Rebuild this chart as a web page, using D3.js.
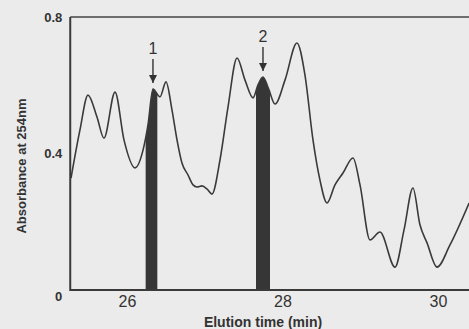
<!DOCTYPE html>
<html>
<head>
<meta charset="utf-8">
<script src="https://cdn.jsdelivr.net/npm/d3@7"></script>
<style>
  html, body { margin: 0; padding: 0; background: #ebebeb; }
  svg { display: block; }
  .axis-label { font-family: "Liberation Sans", Arial, sans-serif; fill: #333; }
</style>
</head>
<body>
<div id="chart"></div>
<script>
// elution time (min) and absorbance
const times = [25.28, 25.395, 25.498, 25.614, 25.704, 25.846, 25.961, 26.103, 26.206, 26.27, 26.334,
  26.424, 26.502, 26.579, 26.643, 26.707, 26.785, 26.849, 26.9, 26.965, 27.029, 27.093, 27.196,
  27.299, 27.415, 27.518, 27.621, 27.685, 27.749, 27.82, 27.904, 28.032, 28.186, 28.289, 28.392,
  28.482, 28.572, 28.675, 28.778, 28.907, 28.997, 29.125, 29.254, 29.447, 29.563, 29.678, 29.768,
  29.859, 29.987, 30.154, 30.4]
const absorbance = [0.328, 0.469, 0.571, 0.507, 0.445, 0.58, 0.44, 0.358, 0.41, 0.484, 0.589,
  0.566, 0.61, 0.527, 0.44, 0.372, 0.337, 0.308, 0.302, 0.305, 0.296, 0.281, 0.381,
  0.536, 0.68, 0.615, 0.563, 0.601, 0.624, 0.59, 0.545, 0.615, 0.724, 0.63, 0.44,
  0.322, 0.255, 0.308, 0.343, 0.387, 0.308, 0.147, 0.17, 0.067, 0.176, 0.299, 0.191,
  0.138, 0.067, 0.132, 0.255]

// collected fractions (shaded)
const peakLabels = ['1', '2']
const peakCenters = [26.334, 27.749]
const peakStarts = [26.24, 27.66]
const peakEnds = [26.39, 27.84]

const xTicks = [26, 28, 30]
const yTicks = [0, 0.4, 0.8]

const W = 469, H = 329
const x = d3.scaleLinear().domain([26, 30]).range([127, 438])
const y = d3.scaleLinear().domain([0, 0.8]).range([290, 17])
const xStart = 25.27

const data = times.map((t, i) => ({ t, v: absorbance[i] }))

const svg = d3.select('#chart').append('svg')
  .attr('width', W)
  .attr('height', H)

const line = d3.line()
  .x(d => x(d.t))
  .y(d => y(d.v))
  .curve(d3.curveMonotoneX)

const area = d3.area()
  .x(d => x(d.t))
  .y0(y(0))
  .y1(d => y(d.v))
  .curve(d3.curveMonotoneX)

// shaded fractions: area under the trace clipped to each fraction window
const defs = svg.append('defs')
peakStarts.forEach((s, i) => {
  defs.append('clipPath').attr('id', 'clip' + i)
    .append('rect')
    .attr('x', x(s))
    .attr('y', 0)
    .attr('width', x(peakEnds[i]) - x(s))
    .attr('height', H)
  svg.append('path')
    .datum(data)
    .attr('clip-path', 'url(#clip' + i + ')')
    .attr('fill', '#363636')
    .attr('d', area)
})

svg.append('path')
  .datum(data)
  .attr('fill', 'none')
  .attr('stroke', '#3a3a3a')
  .attr('stroke-width', 1.6)
  .attr('d', line)

// frame
const left = x(xStart)
svg.append('line').attr('x1', left).attr('x2', W + 2).attr('y1', y(0.8)).attr('y2', y(0.8))
  .attr('stroke', '#444').attr('stroke-width', 1.4)

svg.append('g')
  .attr('transform', 'translate(0,' + y(0) + ')')
  .call(d3.axisBottom(x).tickValues(xTicks).tickSize(0).tickPadding(6).tickFormat(d3.format('d')))
  .call(g => g.select('.domain').remove())
  .call(g => g.selectAll('text')
    .attr('font-family', '"Liberation Sans", Arial, sans-serif')
    .attr('font-size', 16).attr('fill', '#333'))

svg.append('line').attr('x1', left).attr('x2', W + 2).attr('y1', y(0)).attr('y2', y(0))
  .attr('stroke', '#3a3a3a').attr('stroke-width', 2)

svg.append('g')
  .attr('transform', 'translate(' + left + ',0)')
  .call(d3.axisLeft(y).tickValues(yTicks).tickSize(0).tickPadding(8)
    .tickFormat(d => d === 0 ? '0' : d3.format('.1f')(d)))
  .call(g => g.select('.domain').remove())
  .call(g => g.selectAll('text')
    .attr('font-family', '"Liberation Sans", Arial, sans-serif')
    .attr('font-size', 13).attr('font-weight', 'bold').attr('fill', '#333')
    .attr('dy', d => d === 0 ? '0.8em' : '0.32em'))

svg.append('line').attr('x1', left).attr('x2', left).attr('y1', y(0.8)).attr('y2', y(0) + 1)
  .attr('stroke', '#3a3a3a').attr('stroke-width', 2)

// fraction arrows and numbers
const interp = t => {
  const i = d3.bisector(d => d.t).left(data, t)
  const a = data[Math.max(0, i - 1)], b = data[Math.min(data.length - 1, i)]
  return a.t === b.t ? a.v : a.v + (b.v - a.v) * (t - a.t) / (b.t - a.t)
}
defs.append('marker').attr('id', 'head')
  .attr('viewBox', '0 0 10 10').attr('refX', 10).attr('refY', 5)
  .attr('markerWidth', 6).attr('markerHeight', 6).attr('orient', 'auto')
  .append('path').attr('d', 'M0,0L10,5L0,10z').attr('fill', '#333')

peakCenters.forEach((c, i) => {
  const top = y(interp(c))
  const px = x(c)
  svg.append('line')
    .attr('x1', px).attr('x2', px)
    .attr('y1', top - 30).attr('y2', top - 6)
    .attr('stroke', '#333').attr('stroke-width', 1.4)
    .attr('marker-end', 'url(#head)')
  svg.append('text')
    .attr('class', 'axis-label')
    .attr('x', px).attr('y', top - 35)
    .attr('text-anchor', 'middle')
    .attr('font-size', 16)
    .text(peakLabels[i])
})

svg.append('text')
  .attr('class', 'axis-label')
  .attr('x', 263).attr('y', 327)
  .attr('text-anchor', 'middle')
  .attr('font-size', 14)
  .attr('font-weight', 'bold')
  .text('Elution time (min)')

svg.append('text')
  .attr('class', 'axis-label')
  .attr('transform', 'translate(26,166) rotate(-90)')
  .attr('text-anchor', 'middle')
  .attr('font-size', 13)
  .attr('font-weight', 'bold')
  .text('Absorbance at 254nm')
</script>
</body>
</html>
